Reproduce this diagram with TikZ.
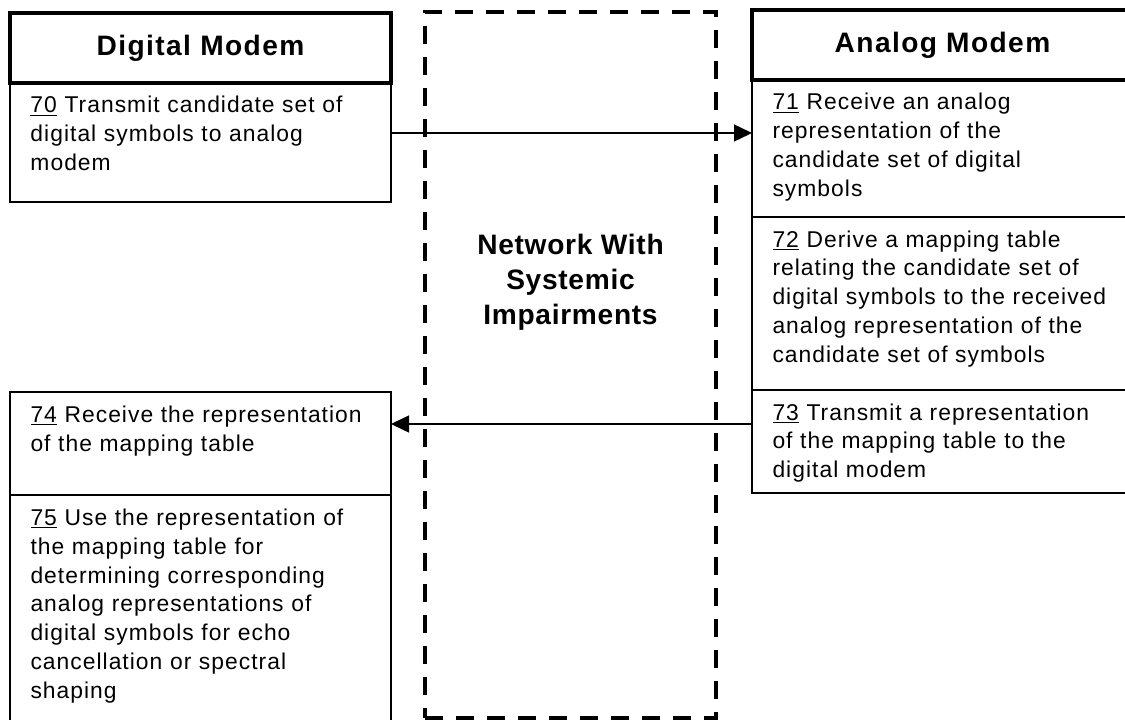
\documentclass[tikz,border=0pt]{standalone}
\usepackage{fontspec}
\setmainfont{Liberation Sans}
\newfontfamily\stepfont[LetterSpace=4.5]{Liberation Sans}
\newfontfamily\headfont[LetterSpace=5]{Liberation Sans}
\newfontfamily\netfont[LetterSpace=2.5]{Liberation Sans}
\usetikzlibrary{positioning,arrows.meta}
\tikzstyle{modem} = [draw, line width=2.4pt, outer sep=0pt, minimum width=7.62cm, minimum height=1.4cm, font=\headfont\fontsize{16}{20}\selectfont\bfseries]
\tikzstyle{stepbox} = [draw, line width=0.8pt, outer sep=0pt, text width=6.8cm, align=left, inner xsep=0.41cm, inner ysep=0.1cm, text height=0.5cm, font=\stepfont\fontsize{13}{16.5}\selectfont]
\tikzstyle{netbox} = [draw, line width=2.3pt, dash pattern=on 0.36cm off 0.26cm, inner sep=0pt, outer sep=0pt]
\tikzstyle{netlabel} = [align=center, font=\netfont\fontsize{16}{20}\selectfont\bfseries]
\tikzstyle{flow} = [line width=0.8pt, -{Triangle[length=0.36cm,width=0.34cm]}]

\begin{document}
\begin{tikzpicture}
\useasboundingbox (0,0) rectangle (22.5,-14.38);

\node[modem, anchor=north west] (digital) at (0.2,-0.26) {Digital Modem};
\node[stepbox, text depth=1.68cm, below=0cm of digital] (s70) {\underline{70} Transmit candidate set of\\digital symbols to analog\\modem};
\node[stepbox, text depth=1.36cm, anchor=north west] (s74) at (0.2,-7.84) {\underline{74} Receive the representation\\of the mapping table};
\node[stepbox, text depth=3.9cm, below=0cm of s74] (s75) {\underline{75} Use the representation of\\the mapping table for\\determining corresponding\\analog representations of\\digital symbols for echo\\cancellation or spectral\\shaping};

\node[modem, anchor=north west] (analog) at (15.04,-0.2) {Analog Modem};
\node[stepbox, text depth=2.04cm, below=0cm of analog] (s71) {\underline{71} Receive an analog\\representation of the\\candidate set of digital\\symbols};
\node[stepbox, text depth=2.76cm, below=0cm of s71] (s72) {\underline{72} Derive a mapping table\\relating the candidate set of\\digital symbols to the received\\analog representation of the\\candidate set of symbols};
\node[stepbox, text depth=1.36cm, below=0cm of s72] (s73) {\underline{73} Transmit a representation\\of the mapping table to the\\digital modem};

\node[netbox, anchor=north west, minimum width=5.82cm, minimum height=14.12cm] (net) at (8.5,-0.24) {};
\node[netlabel] (netname) at ([yshift=-5.4cm]net.north) {Network With\\Systemic\\Impairments};

\coordinate (a70) at ([yshift=0.19cm]s70.east);
\coordinate (a73) at ([yshift=0.35cm]s73.west);
\draw[flow] (a70) -- (a70 -| s71.west);
\draw[flow] (a73) -- (a73 -| s74.east);
\end{tikzpicture}
\end{document}
